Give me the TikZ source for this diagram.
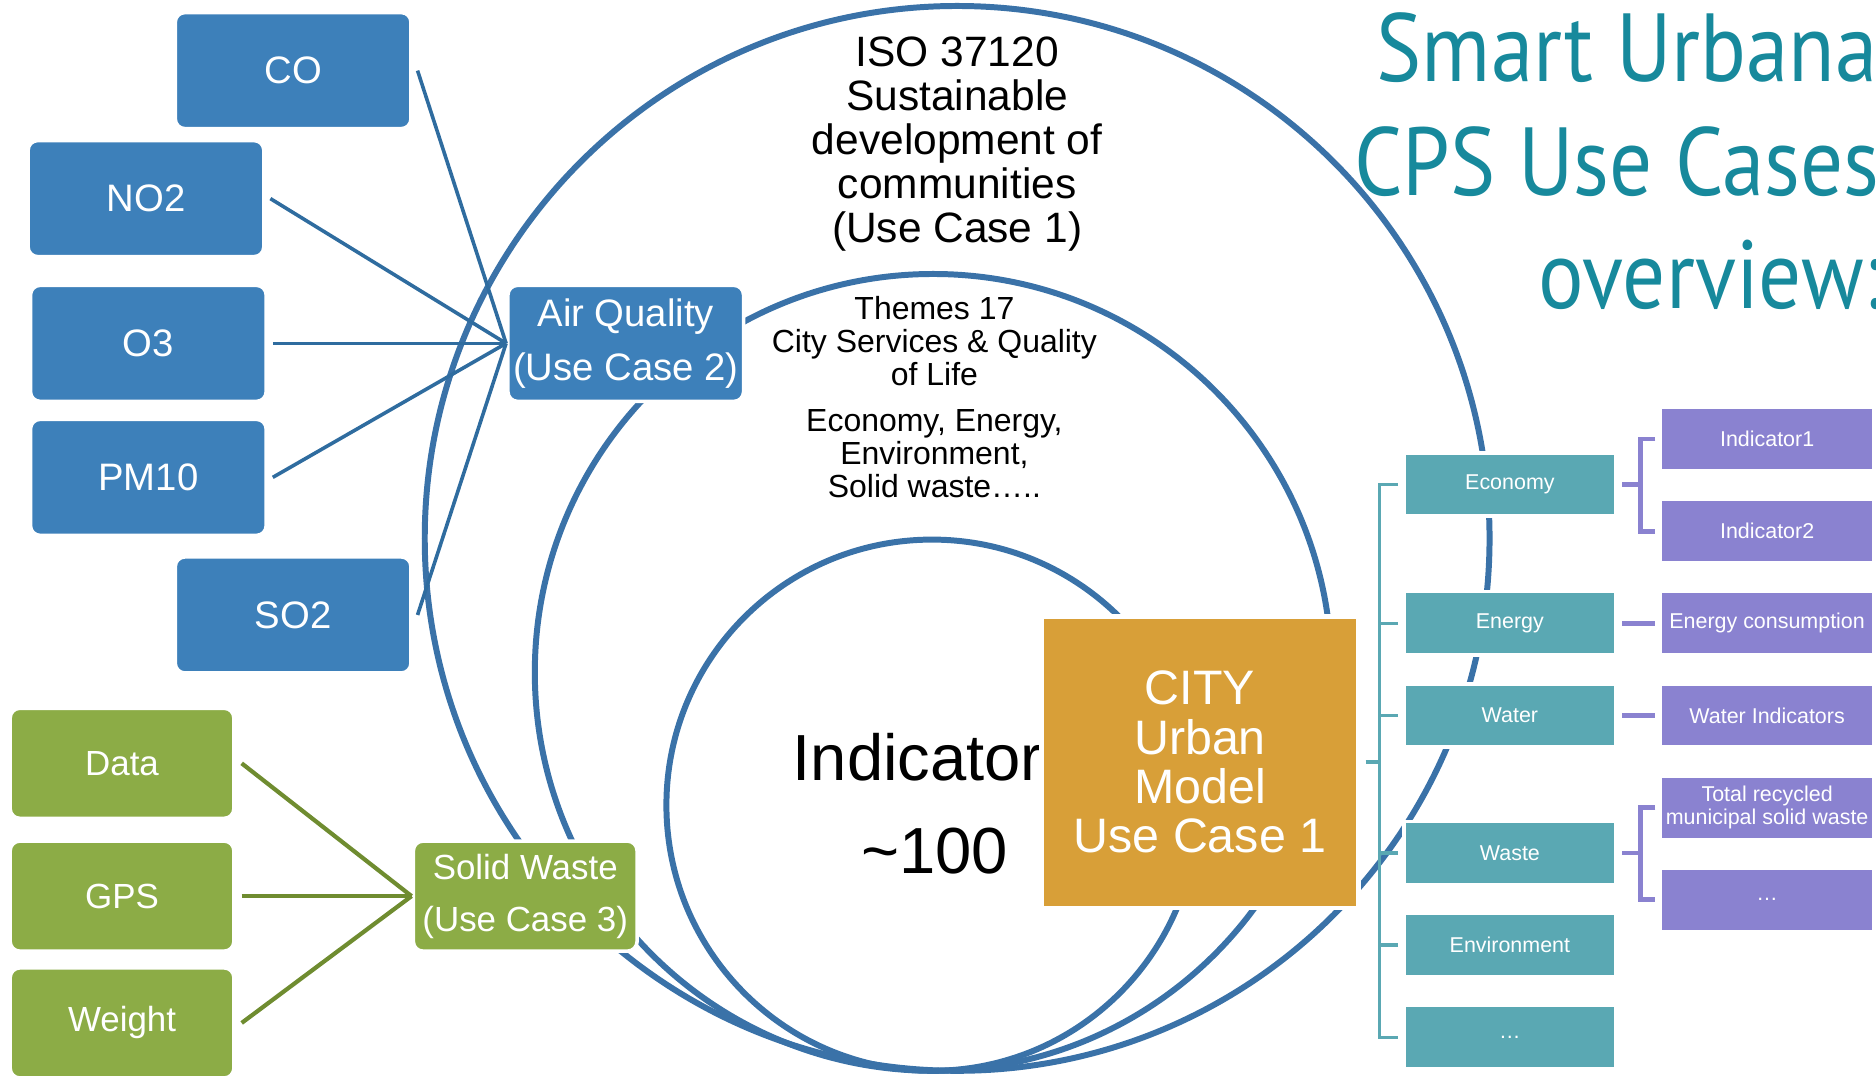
\documentclass[tikz,border=0pt]{standalone}
\usepackage{fontspec}
\setmainfont{Liberation Sans}
\newfontfamily\titlefont[FakeStretch=0.88]{PT Sans}
\usetikzlibrary{shapes, calc, positioning}
\definecolor{Ring}{HTML}{3A72A8}
\definecolor{AirBlue}{HTML}{3D80BA}
\definecolor{AirLine}{HTML}{2F6C9F}
\definecolor{WasteGreen}{HTML}{8CAC46}
\definecolor{WasteLine}{HTML}{6F8C30}
\definecolor{CityGold}{HTML}{D89F38}
\definecolor{Theme}{HTML}{5AA8B3}
\definecolor{Ind}{HTML}{8A82D0}
\definecolor{TitleTeal}{HTML}{17899C}
\def\sz#1#2{\fontsize{#1}{#2}\selectfont}

\begin{document}
\begin{tikzpicture}[
    x=0.1mm, y=-0.1mm,
    ring/.style={draw=Ring, line width=0.5mm},
    airKey/.style={draw=white, line width=0.3mm, rounded corners=0.8mm, fill=AirBlue, text=white, inner sep=0, minimum width=19.7mm, minimum height=9.7mm, font=\sz{9.1}{12.8}, align=center},
    wasteKey/.style={airKey, fill=WasteGreen, minimum width=18.7mm, minimum height=9.2mm, font=\sz{8.3}{12.3}},
    cityKey/.style={draw=white, line width=0.4mm, fill=CityGold, text=white, inner sep=0, minimum width=26.5mm, minimum height=24.4mm, font=\sz{11.5}{11.7}, align=center},
    themeKey/.style={draw=white, line width=0.3mm, fill=Theme, text=white, inner sep=0, minimum width=17.7mm, minimum height=5.3mm, font=\sz{5.1}{5.5}, align=center},
    indKey/.style={themeKey, fill=Ind, minimum width=17.8mm},
    bodyText/.style={inner sep=0, align=center},
    titleText/.style={inner sep=0, anchor=base west, text=TitleTeal, font=\titlefont\sz{23}{23}},
    airLine/.style={draw=AirLine, line width=0.3mm},
    wasteLine/.style={draw=WasteLine, line width=0.35mm},
    themeLine/.style={draw=Theme, line width=0.3mm},
    indLine/.style={draw=Ind, line width=0.4mm},
  ]
  \useasboundingbox (0,0) rectangle (1568,900);
  \clip (0,0) rectangle (1568,900);
  % rings
  \draw[ring] (800,450) circle [radius=44.5mm];
  \draw[ring] (780,562) circle [radius=33.3mm];
  \draw[ring] (779,673) circle [radius=22.2mm];
  % title
  \node[titleText] (titleA) at (1150,68) {Smart Urbana};
  \node[titleText] (titleB) at (1131,163) {CPS Use Cases};
  \node[titleText] (titleC) at (1285,258) {overview:};
  % ring texts
  \node[bodyText, anchor=north, font=\sz{10.1}{10.5}] (isoT) at (800,30) {ISO 37120\\Sustainable\\development of\\communities\\(Use Case 1)};
  \node[bodyText, anchor=north, font=\sz{7.6}{7.8}] (themesT) at (781,247) {Themes 17\\City Services \& Quality\\of Life\\[1.15mm]Economy, Energy,\\Environment,\\Solid waste…..};
  \node[bodyText, anchor=base, font=\sz{15.5}{16}] (indicatorT) at (767,652) {Indicator};
  \node[bodyText, anchor=base, font=\sz{15.5}{16}] (hundredT) at (781,730) {\textasciitilde 100};
  % use case 2
  \node[airKey] (coK) at (245,59) {CO};
  \node[airKey] (no2K) at (122,166) {NO2};
  \node[airKey] (o3K) at (124,287) {O3};
  \node[airKey] (pm10K) at (124,399) {PM10};
  \node[airKey] (so2K) at (245,514) {SO2};
  \node[airKey] (airQualityC) at (523,287) {Air Quality\\(Use Case 2)};
  \foreach \k in {coK, no2K, o3K, pm10K, so2K}
    \draw[airLine] ([xshift=0.4mm]\k.east) -- (airQualityC.west);
  % use case 3
  \node[wasteKey] (dataK) at (102,638) {Data};
  \node[wasteKey] (gpsK) at (102,749) {GPS};
  \node[wasteKey] (weightK) at (102,855) {Weight};
  \node[wasteKey] (solidWasteC) at (439,749) {Solid Waste\\(Use Case 3)};
  \foreach \k in {dataK, gpsK, weightK}
    \draw[wasteLine] ([xshift=0.5mm]\k.east) -- (solidWasteC.west);
  % themes
  \node[themeKey] (economyT) at (1262,405) {Economy};
  \node[themeKey] (energyT) at (1262,521) {Energy};
  \node[themeKey] (waterT) at (1262,598) {Water};
  \node[themeKey] (wasteT) at (1262,713) {Waste};
  \node[themeKey] (environmentT) at (1262,790) {Environment};
  \node[themeKey] (moreT) at (1262,867) {\ldots};
  % indicators
  \node[indKey] (indicatorOneI) at (1477,367) {Indicator1};
  \node[indKey] (indicatorTwoI) at (1477,444) {Indicator2};
  \node[indKey] (energyConsI) at (1477,521) {Energy consumption};
  \node[indKey] (waterIndI) at (1477,598) {Water Indicators};
  \node[indKey] (recycledI) at (1477,675) {Total recycled\\municipal solid waste};
  \node[indKey] (moreI) at (1477,752) {\ldots};
  % city
  \node[cityKey] (cityC) at (1003,637) {CITY\\Urban\\Model\\Use Case 1};
  % lines
  \coordinate (trunkT) at ($(economyT.west)+(-1.9mm,0)$);
  \draw[themeLine] ([xshift=-0.35mm]economyT.west) -- (trunkT) |- ([xshift=-0.35mm]moreT.west);
  \foreach \k in {energyT, waterT, wasteT, environmentT}
    \draw[themeLine] ([xshift=-0.35mm]\k.west) -- (\k.west -| trunkT);
  \draw[themeLine] ([xshift=0.4mm]cityC.east) -- (cityC.east -| trunkT);
  \draw[indLine] ([xshift=0.4mm]economyT.east) -- ++(1.5mm,0) coordinate (econFork);
  \draw[indLine] ([xshift=-0.3mm]indicatorOneI.west) -| (econFork) |- ([xshift=-0.3mm]indicatorTwoI.west);
  \draw[indLine] ([xshift=0.4mm]wasteT.east) -- ++(1.5mm,0) coordinate (wasteFork);
  \draw[indLine] ([xshift=-0.3mm]recycledI.west) -| (wasteFork) |- ([xshift=-0.3mm]moreI.west);
  \draw[indLine] ([xshift=0.4mm]energyT.east) -- ([xshift=-0.3mm]energyConsI.west);
  \draw[indLine] ([xshift=0.4mm]waterT.east) -- ([xshift=-0.3mm]waterIndI.west);
\end{tikzpicture}
\end{document}
